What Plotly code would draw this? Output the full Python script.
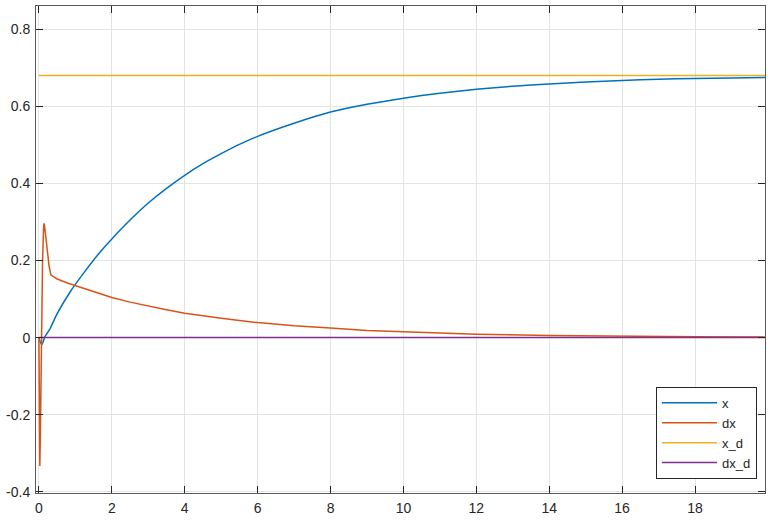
import plotly.graph_objects as go

# time samples and readings for each signal
t_x = [0, 0.04, 0.08, 0.12, 0.16, 0.2, 0.3, 0.5, 0.86, 1.2, 1.68, 2, 2.5, 3, 3.5,
       4, 4.5, 5, 5.5, 6, 7, 8, 9, 10, 11, 12, 13, 14, 15, 16, 17, 18, 19, 20]
x_vals = [0, -0.012, -0.018, -0.01, 0.002, 0.008, 0.022, 0.062, 0.119, 0.164, 0.222,
          0.256, 0.305, 0.349, 0.387, 0.421, 0.451, 0.477, 0.501, 0.522, 0.556, 0.585,
          0.605, 0.621, 0.634, 0.644, 0.652, 0.658, 0.663, 0.667, 0.670, 0.672, 0.6735, 0.675]

t_dx = [0, 0.01, 0.025, 0.04, 0.07, 0.1, 0.13, 0.145, 0.16, 0.22, 0.28, 0.33, 0.4,
        0.5, 0.8, 1.2, 1.68, 2, 2.5, 3, 3.5, 4, 5, 6, 7, 8, 9, 10, 12, 14, 16, 18, 20]
dx_vals = [0, -0.2, -0.333, -0.25, 0.0, 0.2, 0.29, 0.296, 0.285, 0.235, 0.185, 0.162,
           0.157, 0.152, 0.141, 0.128, 0.113, 0.104, 0.092, 0.0815, 0.072, 0.063, 0.050,
           0.039, 0.0305, 0.025, 0.0186, 0.015, 0.0089, 0.0054, 0.0033, 0.0020, 0.0012]

t_ref = [0, 20]
x_d = [0.68, 0.68]
dx_d = [0, 0]

x_ticks = [0, 2, 4, 6, 8, 10, 12, 14, 16, 18]
y_ticks = [-0.4, -0.2, 0, 0.2, 0.4, 0.6, 0.8]
y_labels = ["-0.4", "-0.2", "0", "0.2", "0.4", "0.6", "0.8"]

fig = go.Figure()
fig.add_trace(go.Scatter(x=t_x, y=x_vals, mode="lines", name="x",
                         line=dict(color="#0072BD", width=1.5, shape="spline", smoothing=0.4)))
fig.add_trace(go.Scatter(x=t_dx, y=dx_vals, mode="lines", name="dx",
                         line=dict(color="#D95319", width=1.5)))
fig.add_trace(go.Scatter(x=t_ref, y=x_d, mode="lines", name="x_d",
                         line=dict(color="#EDB120", width=1.5)))
fig.add_trace(go.Scatter(x=t_ref, y=dx_d, mode="lines", name="dx_d",
                         line=dict(color="#7E2F8E", width=1.5)))

axis_style = dict(showline=True, linecolor="#5a5a5a", linewidth=1, mirror="ticks",
                  ticks="inside", ticklen=7, tickcolor="#262626", tickwidth=1,
                  showgrid=True, gridcolor="#e3e3e3", gridwidth=1, zeroline=False,
                  automargin=False, ticklabelstandoff=2,
                  tickfont=dict(family="Liberation Sans, Arial", size=14, color="#262626"))

fig.update_xaxes(range=[-0.08, 19.92], tickvals=x_ticks, **axis_style)
fig.update_yaxes(range=[-0.403, 0.86], tickvals=y_ticks, ticktext=y_labels, **axis_style)

fig.update_layout(
    width=774, height=520,
    margin=dict(l=36, r=9, t=6, b=27, autoexpand=False),
    paper_bgcolor="white", plot_bgcolor="white",
    showlegend=True,
    legend=dict(x=0.989, y=0.029, xanchor="right", yanchor="bottom",
                bgcolor="white", bordercolor="#262626", borderwidth=1,
                font=dict(family="Liberation Sans, Arial", size=13, color="#262626"),
                itemwidth=55, tracegroupgap=0),
)

# drop the browser's default 8px body margin so the figure sits at the window corner
fig.write_html("out.html", config={"displayModeBar": False},
               post_script="document.body.style.margin='0';")
